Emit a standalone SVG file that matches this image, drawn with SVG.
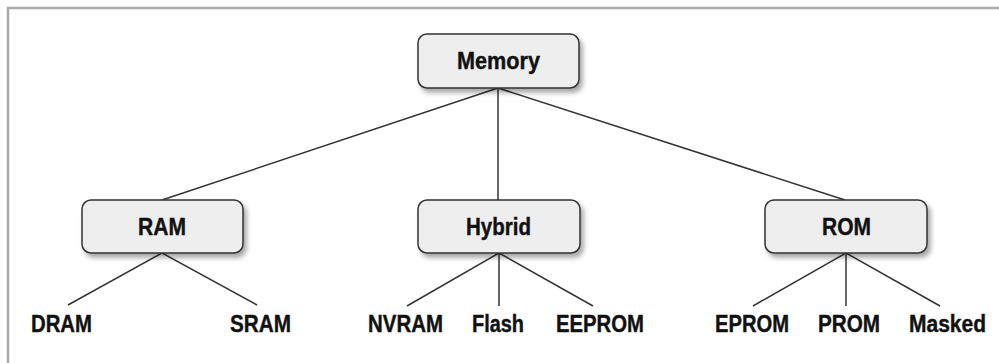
<svg xmlns="http://www.w3.org/2000/svg" width="999" height="363" viewBox="0 0 999 363">
<defs>
<filter id="sh" x="-10%" y="-20%" width="130%" height="160%">
<feDropShadow dx="3" dy="4" stdDeviation="2.5" flood-color="#000" flood-opacity="0.35"/>
</filter>
</defs>
<style>
.box{fill:#eeeeee;stroke:#333;stroke-width:1.5;filter:url(#sh)}
.t{font-family:"Liberation Sans",Arial,sans-serif;font-weight:bold;font-size:23.5px;fill:#111;stroke:#111;stroke-width:0.4;text-anchor:middle}
.c{stroke:#333;stroke-width:1.5;fill:none}
.frame{stroke:#aaaaaa;stroke-width:2.5;fill:none}
</style>
<rect width="999" height="363" fill="#fff"/>
<path class="frame" d="M8,363 V8 H999"/>
<g id="connectors">
<line class="c" x1="498" y1="88" x2="162" y2="200"/>
<line class="c" x1="498" y1="88" x2="498" y2="200"/>
<line class="c" x1="498" y1="88" x2="845" y2="200"/>
<line class="c" x1="162" y1="253" x2="68" y2="305"/>
<line class="c" x1="162" y1="253" x2="257" y2="305"/>
<line class="c" x1="499" y1="253" x2="407" y2="306"/>
<line class="c" x1="499" y1="253" x2="499" y2="306"/>
<line class="c" x1="499" y1="253" x2="593" y2="306"/>
<line class="c" x1="846" y1="253" x2="753" y2="306"/>
<line class="c" x1="846" y1="253" x2="846" y2="306"/>
<line class="c" x1="846" y1="253" x2="940" y2="306"/>
</g>
<g id="memory"><rect class="box" x="418" y="34" width="161" height="54" rx="9"/><text class="t" x="498.5" y="68.5" textLength="83" lengthAdjust="spacingAndGlyphs">Memory</text></g>
<g id="ram"><rect class="box" x="82" y="200" width="161" height="53" rx="9"/><text class="t" x="162" y="235" textLength="48" lengthAdjust="spacingAndGlyphs">RAM</text></g>
<g id="hybrid"><rect class="box" x="418" y="200" width="162" height="53" rx="9"/><text class="t" x="498.5" y="235" textLength="65" lengthAdjust="spacingAndGlyphs">Hybrid</text></g>
<g id="rom"><rect class="box" x="765" y="200" width="162" height="53" rx="9"/><text class="t" x="846.5" y="235" textLength="49" lengthAdjust="spacingAndGlyphs">ROM</text></g>
<g id="dram"><text class="t" x="61.5" y="332" textLength="61" lengthAdjust="spacingAndGlyphs">DRAM</text></g>
<g id="sram"><text class="t" x="260.5" y="332" textLength="61" lengthAdjust="spacingAndGlyphs">SRAM</text></g>
<g id="nvram"><text class="t" x="405.5" y="332" textLength="75" lengthAdjust="spacingAndGlyphs">NVRAM</text></g>
<g id="flash"><text class="t" x="498" y="332" textLength="52" lengthAdjust="spacingAndGlyphs">Flash</text></g>
<g id="eeprom"><text class="t" x="600" y="332" textLength="88" lengthAdjust="spacingAndGlyphs">EEPROM</text></g>
<g id="eprom"><text class="t" x="752" y="332" textLength="74" lengthAdjust="spacingAndGlyphs">EPROM</text></g>
<g id="prom"><text class="t" x="849" y="332" textLength="62" lengthAdjust="spacingAndGlyphs">PROM</text></g>
<g id="masked"><text class="t" x="947.5" y="332" textLength="77" lengthAdjust="spacingAndGlyphs">Masked</text></g>
</svg>
